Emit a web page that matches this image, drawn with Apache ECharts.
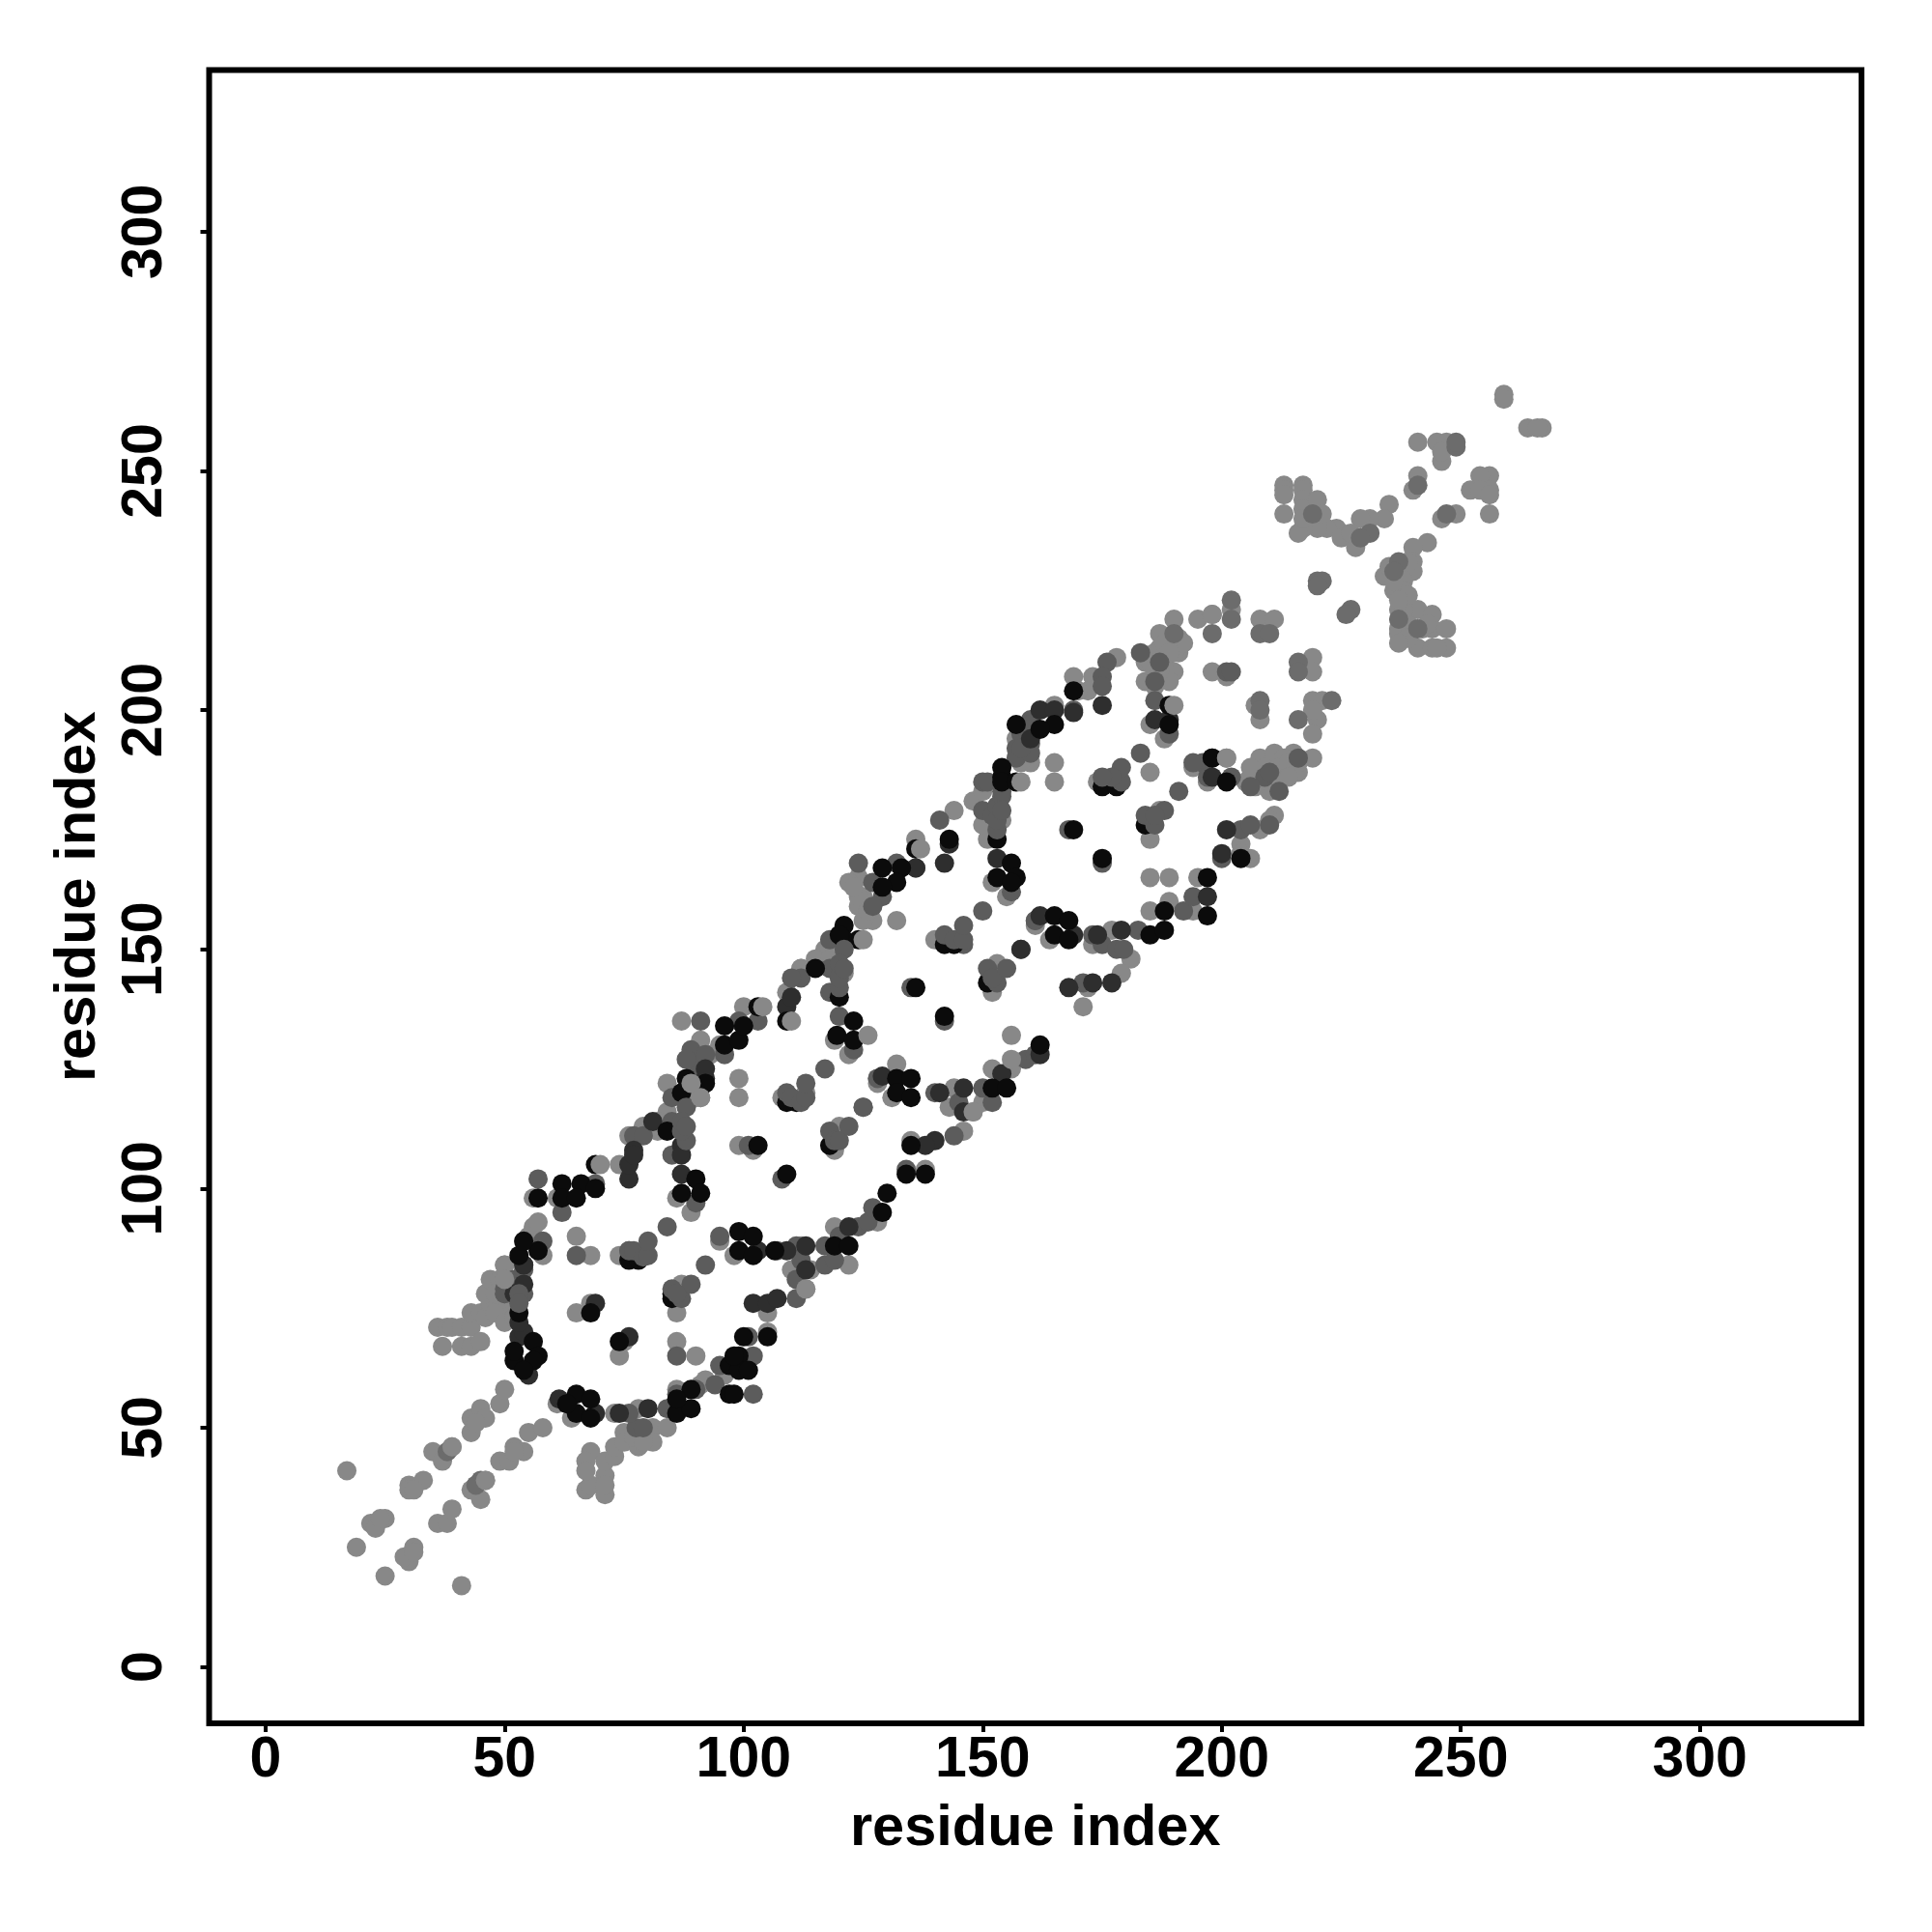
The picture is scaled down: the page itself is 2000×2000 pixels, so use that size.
<!DOCTYPE html>
<html><head><meta charset="utf-8"><style>html,body{margin:0;background:#fff}#c{width:2000px;height:2000px}</style>
<script src="https://cdn.jsdelivr.net/npm/echarts@6/dist/echarts.min.js"></script></head><body><div id="c"></div>
<script>
const tickValues=[0,50,100,150,200,250,300];
const xTitle="residue index", yTitle="residue index";
const grayPts=[[17,41],[19,25],[25,19],[41,17],[22,30],[23,29],[25,31],[24,31],[30,22],[29,23],[31,25],[31,24],[30,38],[30,37],[33,39],[31,37],[35,45],[37,43],[39,46],[36,30],[38,30],[39,33],[43,37],[46,39],[45,35],[43,49],[43,52],[45,54],[46,52],[44,51],[49,55],[50,58],[49,43],[51,43],[52,46],[54,45],[52,45],[55,49],[58,50],
[36,71],[38,71],[39,71],[41,71],[43,71],[37,67],[41,67],[43,67],[45,68],[43,74],[45,74],[46,73],[47,76],[46,78],[47,81],[49,81],[50,81],[50,84],[48,78],[50,75],[48,74],[52,73],[50,72],[52,76],
[56,98],[61,98],[74,105],[76,111],[79,113],[84,122],[84,116],[82,114],[82,112],[89,122],[91,119],[90,119],[99,123],[99,119],[87,135],[91,131],[95,130],[93,128],[100,138],[109,141],[112,146],[122,128],[119,131],[113,120],[108,119],[128,123],[89,95],[86,98],[74,86],[65,90],[68,86],[87,80],[86,74],[98,86],[95,89],[112,88],[110,83],[114,83],[122,84],[119,92],[128,93],[105,74],[113,79],[105,70],[86,68],[90,65],[74,65],[75,68],[65,74],[68,76],[50,84],[58,86],[54,89],[50,81],[52,73],[56,92],[55,90],[57,93],
[124,165],[122,164],[125,161],[124,159],[127,156],[125,156],[132,156],[117,150],[115,148],[112,146],[121,145],[118,148],[136,173],[144,179],[148,181],[150,183],[154,177],[151,173],[150,176],[155,161],[152,164],[140,152],[153,147],[152,141],[156,132],[132,126],[131,119],[128,122],[144,121],[143,117],[148,116],[150,118],[152,125],[156,125],[146,112],[135,110],[138,104],[119,108],[120,113],[99,109],[102,108],[124,161],[123,163],[126,158],
[190,219],[195,219],[198,220],[187,216],[191,215],[187,213],[191,212],[190,208],[184,210],[184,206],[198,208],[178,211],[173,207],[172,204],[169,207],[170,204],[165,201],[157,194],[160,189],[158,189],[165,189],[165,185],[185,197],[188,194],[174,185],[187,179],[185,173],[185,165],[189,165],[164,152],[161,155],[177,154],[173,151],[181,148],[179,145],[172,142],[171,138],[185,158],[189,160],[194,158],[195,165],[194,188],[185,187],[186,212],[188,214],[188,210],[189,206],[186,208],[185,210],[187,208],[190,212],[192,214],[189,212],[186,205],
[202,221],[198,220],[208,219],[211,219],[201,207],[219,211],[219,208],[207,201],[208,198],[219,202],[221,202],[220,198],[219,195],[219,200],[201,190],[197,185],[208,190],[211,191],[215,191],[213,190],[219,190],[213,187],[216,187],[206,186],[210,183],[208,185],[208,175],[211,178],[210,177],[204,172],[206,169],[204,170],[212,188],[212,185],[214,189],[216,189],[209,188],[207,184],[205,185],[214,186],[206,188],
[259,266],[259,265],[264,259],[267,259],[266,259],[241,256],[245,256],[247,256],[246,252],[246,254],[241,249],[240,246],[256,249],[254,249],[252,246],[256,246],[254,246],[256,245],[256,241],[249,241],[246,240],[235,243],[234,240],[231,240],[229,240],[228,234],[225,237],[224,238],[222,238],[220,238],[217,238],[216,237],[213,247],[213,246],[213,245],[213,241],[217,247],[217,246],[217,244],[217,242],[220,244],[221,241],[217,240],[243,235],[240,234],[240,231],[240,229],[237,229],[234,228],[238,227],[236,225],[238,225],[237,221],[237,217],[237,216],[241,221],[244,220],[242,217],[244,217],[247,217],[241,213],[244,213],[247,213],[245,213],[225,236],[227,237],[238,223],[238,221],[236,227],[239,224],[237,223],[239,218],[239,215],[237,214],[239,231],[235,230],[243,218],[238,219],
[68,45],[67,43],[67,37],[68,38],[67,41],[71,36],[71,40],[71,43],[71,38],[73,44],[73,46],[75,49],[75,47],[81,50],[81,47],[78,46],[84,50],[73,53],[78,54],[64,52],[61,55],[86,58],[91,59],[92,60],[96,61],[77,48],[79,47]];
const softMidPts=[[38,45],[45,39],[44,38],[241,247],[247,241],[231,237],[229,236],[249,255],[249,256],[237,231],[236,229],[237,219],[241,217],[219,241],[220,227],[221,227],[220,226],[227,221],[226,220],[208,216],[210,216],[216,210],[216,208],[208,202],[208,200],[202,223],[202,219],[223,202],[216,198],[198,216],[190,216]];
const midPts=[[50,79],[50,78],[52,81],[54,83],[54,78],[57,102],[62,95],[69,101],[77,111],[79,111],[85,119],[85,114],[85,107],[91,135],[99,135],[96,128],[91,126],[103,135],[112,144],[120,136],[123,129],[117,125],[125,117],[90,97],[84,92],[76,87],[92,84],[95,90],[107,87],[111,88],[112,85],[117,84],[119,85],[117,88],[120,90],[124,92],[126,93],[127,96],[111,77],[111,81],[101,69],[102,65],[95,63],[86,65],[65,86],[54,84],[58,89],[50,78],[90,127],[89,129],[91,125],[90,125],[92,128],[88,127],
[124,168],[132,168],[129,161],[127,164],[127,159],[118,152],[110,144],[118,146],[118,141],[136,167],[141,177],[150,185],[150,179],[146,151],[158,150],[161,156],[135,142],[142,135],[150,158],[156,162],[128,123],[125,117],[140,120],[145,118],[152,118],[150,121],[159,127],[161,128],[144,111],[134,104],[101,109],[108,102],[152,178],[153,180],[154,182],
[187,210],[186,206],[183,212],[176,210],[175,207],[175,205],[169,200],[160,198],[160,197],[157,192],[151,185],[154,183],[186,202],[189,195],[183,191],[196,189],[197,186],[191,183],[168,175],[175,168],[161,156],[173,153],[175,151],[178,150],[179.5,150],[171,143],[182.5,154],[192,158],[194,161],[160,193],[158,195],[157,190],[160,191],[158,192],[159,196],
[201,208],[202,208],[202,186],[194,189],[216,190],[209,186],[206,184],[210,187],[212,183],[204,175],[206,176],[210,176],[200,169],
[77.5,50],[76,53],[79,50],[84,54],[86,57],[90,58],[102,57],[94,59]];
const darkPts=[[54,80],[53,69],[55,61],[76,102],[76,105],[77,108],[77,107],[81,114],[87,109],[87,107],[92,123],[92,125],[109,138],[110,140],[87,103],[103,87],[109,87],[113,88],[113,83],[122,92],[102,76],[105,76],[107,77],[76,69],[69,76],[129,123.5],[54,84],[61.4,56],[69,53],[80,54],[74,53],[52,78],[54,70],[53,72],
[143,172],[142,168],[153,169],[146,121],[141,120],[154,124],[140,110],[138,109],[136,167],[162,157],[158,150],[162,128],[146,116],
[175,201],[169,199.5],[162,200],[165,200],[160,194],[186,198],[189,198],[198,190],[169,153],[174,153],[179,154],[177,143],[173,143],[168,142],[197,161],[201,175],[198,186],[200,170]];
const blackPts=[[52,64],[52,66],[56,68],[57,65],[56,64],[54,62],[57,98],[62,101],[66,101],[62,98],[65,98],[69,100],[69,105],[84,112],[87,120],[88,123],[92,122],[96,134],[96,130],[99,131],[100,134],[103,138],[109,135],[123,135],[119.5,132],[123,131],[109,118],[111,118],[90,102],[91,99],[87,99],[76,85],[78,85],[85,77],[85,78],[99,91],[102,90],[99,87],[102,86],[106.5,87],[119,88],[122,88],[130,99],[129,95],[105,69],[100,69],[99,65],[97,63],[99,62],[101,62],[98,65],[74,68],[68,74],[53,86],[57,87],[54,89],[53,74],[97,57],[98,57],[89,58],[86,53],[89,54],[86,56],[65,57],[68,56],[65,53],[68,52],[63,55],
[129,167],[133,167],[132,164],[129,163],[121,155],[121,152],[124,152],[120,153],[115,146],[120,140],[136,171],[143,173],[153,173],[154,186],[156,168],[157,165],[153,165],[156,164],[142,151],[144,151],[151,143],[136,142],[142,136],[132,123],[135,123],[132,120],[135,119],[152,121],[155,121],[162,130],[135,109],[138,103],[134,103],[118,109],[103,109],[109,103],
[169,204],[165,197],[162,196],[157,197],[154,188],[154,185],[157,185],[189,201],[189,197],[175,184],[178,184],[184,176],[169,175],[175,169],[165,157],[168,156],[165,153],[168,152],[185,153],[188,154],[188,158],[197,157],[197,165],[198,190],[201,185],[204,169]];
const midTopPts=[[76,87],[77,87],[79,85.7],[80,86],[80,89],[109,120],[110,119],[112,118],[113,119],[113,122],[142,153],[144,152],[146,152],[146,155],[179,185],[179,188],[177,186],[175,186],[85,79],[87,77],[89,80],[86,78],[151,146],[153,143],[152,144],[155,146],[118,112],[119,110],[120,110],[122,113],[184,178],[186,176],[188,179],[186,178],[53,78],[53,76],[88,117],[88,110],[87,112],[87,114],[88,113],[121,150],[120,142],[120,144],[120,147],[121,146],[153,175],[153,177],[154,179]];
const grayTopPts=[[70,105],[104,138],[110,135],[126,132],[125,152],[137,171],[158,185],[190,201],[201,190],[156,127],[148,116],[113,79],[50,81],[39,46],[46,39],[89,122],[91,119]];
const seriesList=[["gray",grayPts,"#888888"],["softMid",softMidPts,"#6c6c6c"],["mid",midPts,"#5c5c5c"],["dark",darkPts,"#2e2e2e"],["black",blackPts,"#0b0b0b"],["midTop",midTopPts,"#5c5c5c"],["grayTop",grayTopPts,"#888888"]];
const font="'Liberation Sans',Arial,sans-serif";
const axis=(extra)=>Object.assign({type:'value',min:-11.8,max:333.8,splitLine:{show:false},axisLine:{show:false,onZero:false},
  axisTick:{show:true,length:9,customValues:tickValues,lineStyle:{color:'#000',width:4}},
  nameLocation:'middle',nameTextStyle:{fontFamily:font,fontWeight:'bold',fontSize:59.5,color:'#000'}},extra);
const labelStyle={show:true,customValues:tickValues,fontFamily:font,fontWeight:'bold',fontSize:59,color:'#000'};
echarts.init(document.getElementById('c')).setOption({
  animation:false,backgroundColor:'#fff',
  grid:{left:216.5,right:73,top:72.5,bottom:216,show:true,borderColor:'#000',borderWidth:6,backgroundColor:'transparent'},
  xAxis:axis({name:xTitle,nameGap:80,axisLabel:Object.assign({margin:9},labelStyle)}),
  yAxis:axis({name:yTitle,nameGap:105,nameRotate:90,axisLabel:Object.assign({margin:66,rotate:90,align:'center',verticalAlign:'middle'},labelStyle)}),
  series:seriesList.map(s=>({name:s[0],type:'scatter',data:s[1],symbol:'circle',symbolSize:20,itemStyle:{color:s[2],opacity:1},silent:true}))
});
</script></body></html>
